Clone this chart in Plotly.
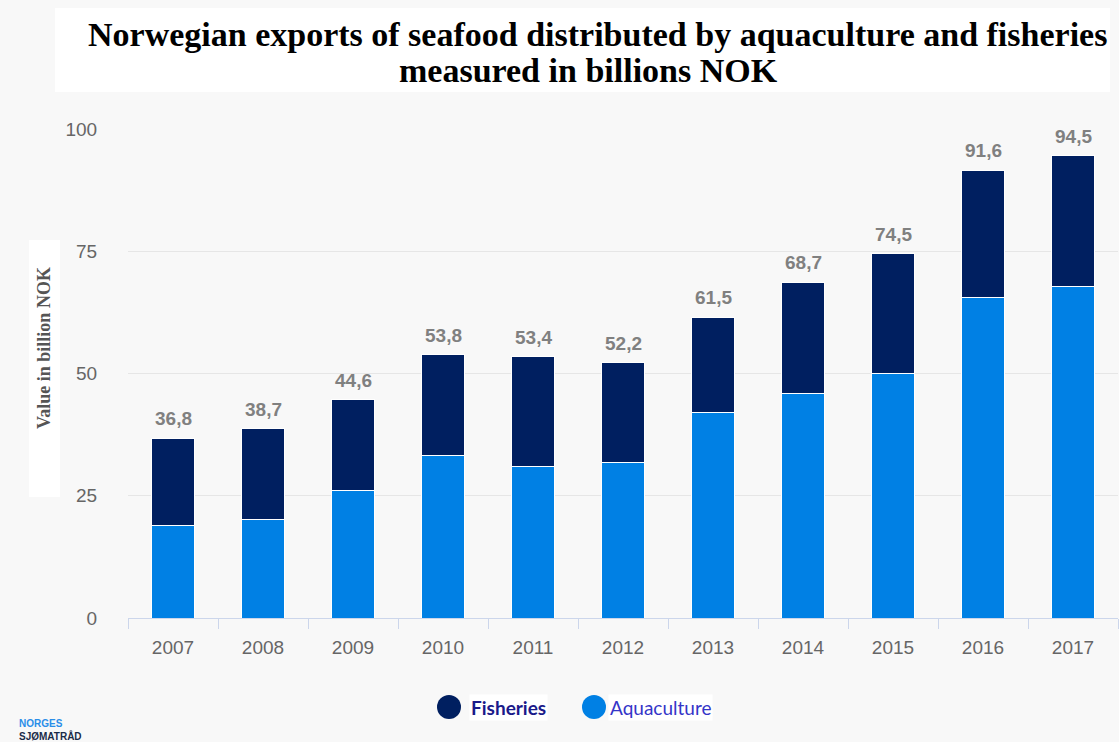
import plotly.graph_objects as go

years = ["2007", "2008", "2009", "2010", "2011", "2012", "2013", "2014", "2015", "2016", "2017"]
totals = [36.8, 38.7, 44.6, 53.8, 53.4, 52.2, 61.5, 68.7, 74.5, 91.6, 94.5]
aquaculture = [19.0, 20.1, 26.0, 33.3, 30.9, 31.7, 42.1, 46.0, 49.9, 65.6, 67.7]
fisheries = [round(t - a, 1) for t, a in zip(totals, aquaculture)]
total_labels = [f"{t:.1f}".replace(".", ",") for t in totals]
y_ticks = [0, 25, 50, 75, 100]

C_FISH = "#001f60"
C_AQUA = "#0080e4"
BG = "#f8f8f8"

W, H = 1119, 742
L, R, T, B = 128, 1, 129, 124
PW = W - L - R
PH = H - T - B


def px(x):
    return (x - L) / PW


def py(y):
    return (H - B - y) / PH


fig = go.Figure()
fig.add_trace(go.Bar(x=years, y=aquaculture, name="Aquaculture", marker=dict(color=C_AQUA, line=dict(color="white", width=1)), showlegend=False))
fig.add_trace(go.Bar(x=years, y=fisheries, name="Fisheries", marker=dict(color=C_FISH, line=dict(color="white", width=1)), showlegend=False))

annotations = []
for i, (t, lab) in enumerate(zip(totals, total_labels)):
    annotations.append(dict(x=i, y=t, xref="x", yref="y", text=f"<b>{lab}</b>", showarrow=False,
                            yanchor="bottom", yshift=7,
                            font=dict(family="Liberation Sans, Arial", size=19, color="#808080")))

# title
annotations.append(dict(xref="paper", yref="paper", x=px(597), y=py(35), text="<b>Norwegian exports of seafood distributed by aquaculture and fisheries</b>",
                        showarrow=False, xanchor="center", yanchor="middle",
                        font=dict(family="Liberation Serif, Times New Roman", size=34, color="black")))
annotations.append(dict(xref="paper", yref="paper", x=px(588), y=py(70), text="<b>measured in billions NOK</b>",
                        showarrow=False, xanchor="center", yanchor="middle",
                        font=dict(family="Liberation Serif, Times New Roman", size=34, color="black")))
# y-axis title
annotations.append(dict(xref="paper", yref="paper", x=px(44), y=py(348), text="<b>Value in billion NOK</b>",
                        showarrow=False, textangle=-90, xanchor="center", yanchor="middle",
                        font=dict(family="Liberation Serif, Times New Roman", size=18, color="#555555")))
# legend texts
annotations.append(dict(xref="paper", yref="paper", x=px(469), y=py(707), text="<b>Fisheries</b>",
                        showarrow=False, xanchor="left", yanchor="middle", bgcolor="white",
                        font=dict(family="Lato, Open Sans", size=19, color="#1a1a8a")))
annotations.append(dict(xref="paper", yref="paper", x=px(608), y=py(707), text="Aquaculture",
                        showarrow=False, xanchor="left", yanchor="middle", bgcolor="white",
                        font=dict(family="Lato, Open Sans", size=19, color="#3535c8")))
# logo
annotations.append(dict(xref="paper", yref="paper", x=px(17), y=py(723), text="<b>NORGES</b>",
                        showarrow=False, xanchor="left", yanchor="middle",
                        font=dict(family="Liberation Sans, Arial", size=10, color="#2a8ee8")))
annotations.append(dict(xref="paper", yref="paper", x=px(17), y=py(736), text="<b>SJØMATRÅD</b>",
                        showarrow=False, xanchor="left", yanchor="middle",
                        font=dict(family="Liberation Sans, Arial", size=10, color="#1a2b48")))

shapes = [
    dict(type="rect", xref="paper", yref="paper", x0=px(55), x1=px(1110), y0=py(92), y1=py(8),
         fillcolor="white", line=dict(width=0), layer="below"),
    dict(type="rect", xref="paper", yref="paper", x0=px(29), x1=px(60), y0=py(497), y1=py(240),
         fillcolor="white", line=dict(width=0), layer="below"),
    dict(type="circle", xref="paper", yref="paper", xsizemode="pixel", ysizemode="pixel",
         xanchor=px(449), yanchor=py(707), x0=-12, x1=12, y0=-12, y1=12,
         fillcolor=C_FISH, line=dict(width=0)),
    dict(type="circle", xref="paper", yref="paper", xsizemode="pixel", ysizemode="pixel",
         xanchor=px(594), yanchor=py(707), x0=-12, x1=12, y0=-12, y1=12,
         fillcolor=C_AQUA, line=dict(width=0)),
]

fig.update_layout(
    width=W, height=H,
    margin=dict(l=L, r=R, t=T, b=B),
    paper_bgcolor=BG, plot_bgcolor=BG,
    barmode="stack", bargap=0.53,
    annotations=annotations, shapes=shapes,
    xaxis=dict(type="category", range=[-0.5, len(years) - 0.5], showline=True, linecolor="#ccd6eb", linewidth=1,
               ticks="outside", tickson="boundaries", ticklen=10, tickcolor="#ccd6eb",
               ticklabelstandoff=12,
               tickfont=dict(family="Liberation Sans, Arial", size=19, color="#666666"),
               showgrid=False),
    yaxis=dict(range=[0, 100], tickvals=y_ticks, showgrid=True, gridcolor="#e6e6e6", gridwidth=1,
               zeroline=False, ticks="outside", ticklen=26, tickcolor="rgba(0,0,0,0)",
               tickfont=dict(family="Liberation Sans, Arial", size=19, color="#666666")),
)

fig.write_html("out.html")
